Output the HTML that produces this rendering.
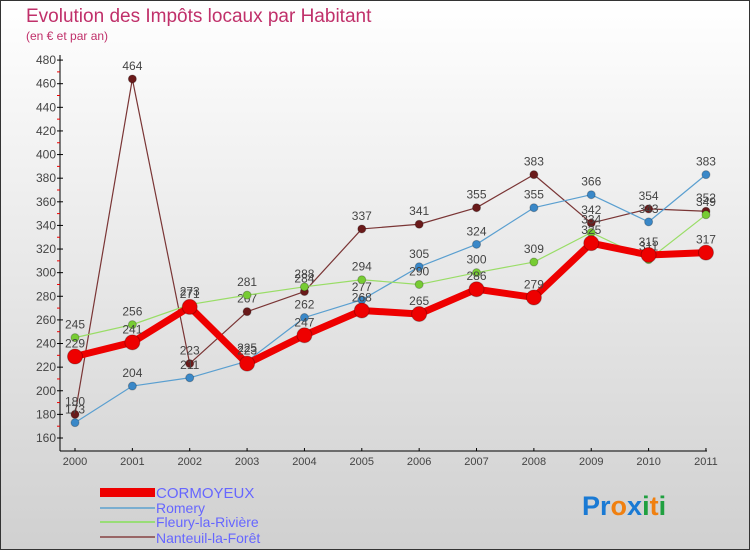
<!DOCTYPE html>
<html><head><meta charset="utf-8"><style>
body{margin:0}
svg{display:block;font-family:"Liberation Sans",sans-serif}
</style></head><body>
<svg id="c" width="750" height="550" xmlns="http://www.w3.org/2000/svg">
<defs><linearGradient id="bg" x1="0" y1="0" x2="0" y2="1"><stop offset="0" stop-color="#ffffff"/><stop offset="1" stop-color="#d0d0d0"/></linearGradient></defs>
<rect x="0.5" y="0.5" width="749" height="549" fill="url(#bg)" stroke="#333"/>
<text x="26" y="22" font-size="19" fill="#c0306a">Evolution des Impôts locaux par Habitant</text>
<text x="26" y="40" font-size="12" fill="#c0306a">(en € et par an)</text>
<g id="axes"></g><g id="series"></g>
<g>
<rect x="100" y="488" width="55" height="9" fill="#ee0000"/>
<text x="156" y="498" font-size="15" fill="#6666ff">CORMOYEUX</text>
<line x1="100" y1="508" x2="155" y2="508" stroke="#7aaed0" stroke-width="2"/>
<text x="156" y="513" font-size="14" fill="#6666ff">Romery</text>
<line x1="100" y1="522" x2="155" y2="522" stroke="#99dd77" stroke-width="2"/>
<text x="156" y="527" font-size="14" fill="#6666ff">Fleury-la-Rivière</text>
<line x1="100" y1="537" x2="155" y2="537" stroke="#996666" stroke-width="2"/>
<text x="156" y="543" font-size="14" fill="#6666ff">Nanteuil-la-Forêt</text>
</g>
<text x="582" y="515" font-size="27" font-weight="bold"><tspan fill="#1a7ad4">Pr</tspan><tspan fill="#f08010">o</tspan><tspan fill="#1a7ad4">x</tspan><tspan fill="#20a040">i</tspan><tspan fill="#f08010">t</tspan><tspan fill="#20a040">i</tspan></text>
</svg>
<script>
const years=[2000,2001,2002,2003,2004,2005,2006,2007,2008,2009,2010,2011];
const yTicks=[160,180,200,220,240,260,280,300,320,340,360,380,400,420,440,460,480];
const cormoyeux=[229,241,271,223,247,268,265,286,279,325,315,317];
const romery=[173,204,211,225,262,277,305,324,355,366,343,383];
const fleury=[245,256,273,281,288,294,290,300,309,334,311,349];
const nanteuil=[180,464,223,267,284,337,341,355,383,342,354,352];
const NS="http://www.w3.org/2000/svg";
const X=i=>75+i*57.36, Y=v=>438-(v-160)*1.181;
function mk(t,a,p){const e=document.createElementNS(NS,t);for(const k in a)e.setAttribute(k,a[k]);p.appendChild(e);return e;}
const ax=document.getElementById('axes');
let l=mk('line',{x1:60,y1:55,x2:60,y2:451,stroke:'#000'},ax);


l=mk('line',{x1:60,y1:451,x2:707,y2:451,stroke:'#000'},ax);


yTicks.forEach((v,i)=>{
  mk('line',{x1:57,x2:63,y1:Y(v),y2:Y(v),stroke:'#000'},ax);
  if(i<yTicks.length-1)mk('line',{x1:57,x2:60,y1:Y(v+10),y2:Y(v+10),stroke:'#e00'},ax);
  const t=mk('text',{x:56,y:Y(v)+4,'font-size':12,'text-anchor':'end',fill:'#444'},ax);t.textContent=v;
  
  
});
years.forEach((y,i)=>{
  mk('line',{x1:X(i),x2:X(i),y1:448,y2:451,stroke:'#000'},ax);
  const t=mk('text',{x:X(i),y:465,'font-size':11,'text-anchor':'middle',fill:'#444'},ax);t.textContent=y;
  
  
});
const sg=document.getElementById('series');
function series(data,name,color,dot,w,r){
  const g=mk('g',{},sg);
  
  
  mk('polyline',{points:data.map((v,i)=>X(i)+','+Y(v)).join(' '),fill:'none',stroke:color,'stroke-width':w,'stroke-linejoin':'round'},g);
  data.forEach((v,i)=>{
    const c=mk('circle',{cx:X(i),cy:Y(v),r:r,fill:dot,stroke:'rgba(0,0,0,0.25)'},g);
    
    
    const t=mk('text',{x:X(i),y:Y(v)-9,'font-size':12,'text-anchor':'middle',fill:'#444'},g);t.textContent=v;
    
    
  });
}
series(nanteuil,'nanteuil','#7a3535','#6a1a1a',1.2,4);
series(romery,'romery','#5a9fd0','#3a88c8',1.2,4);
series(fleury,'fleury','#99dd66','#77cc33',1.2,4);
series(cormoyeux,'cormoyeux','#ee0000','#ee0000',7,7.5);
</script>
</body></html>
